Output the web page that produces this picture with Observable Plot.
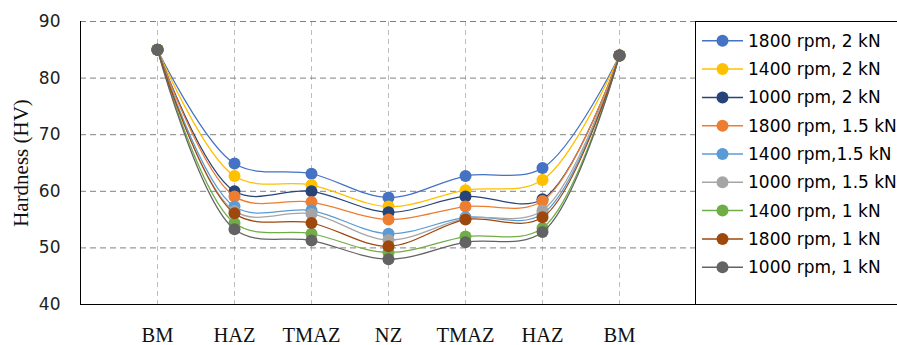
<!DOCTYPE html>
<html><head><meta charset="utf-8">
<script src="https://cdn.jsdelivr.net/npm/d3@7"></script>
<script src="https://cdn.jsdelivr.net/npm/@observablehq/plot@0.6"></script>
<style>
html,body{margin:0;padding:0;background:#fff;}
#wrap{position:relative;width:897px;height:345px;overflow:hidden;}
#chart{position:absolute;left:0;top:0;}
#legend{position:absolute;left:695px;top:21px;}
</style></head><body><div id="wrap"><div id="chart"></div><div id="legend"></div></div>
<script>
const zones = ["BM", "HAZ", "TMAZ", "NZ", "TMAZ", "HAZ", "BM"];
const seriesNames = [
  "1800 rpm, 2 kN", "1400 rpm, 2 kN", "1000 rpm, 2 kN",
  "1800 rpm, 1.5 kN", "1400 rpm,1.5 kN", "1000 rpm, 1.5 kN",
  "1400 rpm, 1 kN", "1800 rpm, 1 kN", "1000 rpm, 1 kN"
];
const seriesColors = ["#4472C4", "#FFC000", "#264478", "#ED7D31", "#5B9BD5", "#A5A5A5", "#70AD47", "#9E480E", "#636363"];
const hv1800_2   = [85, 64.9, 63.1, 58.9, 62.7, 64.1, 84];
const hv1400_2   = [85, 62.7, 61.1, 57.3, 60.2, 62.0, 84];
const hv1000_2   = [85, 60.0, 60.0, 56.3, 59.1, 58.6, 84];
const hv1800_15  = [85, 59.1, 58.1, 55.0, 57.3, 58.3, 84];
const hv1400_15  = [85, 57.3, 56.6, 52.5, 55.4, 56.0, 84];
const hv1000_15  = [85, 56.5, 56.0, 51.4, 55.2, 56.6, 84];
const hv1400_1   = [85, 54.4, 52.5, 49.2, 52.0, 53.5, 84];
const hv1800_1   = [85, 56.1, 54.4, 50.3, 55.0, 55.4, 84];
const hv1000_1   = [85, 53.3, 51.3, 48.0, 51.0, 52.8, 84];
const seriesValues = [hv1800_2, hv1400_2, hv1000_2, hv1800_15, hv1400_15, hv1000_15, hv1400_1, hv1800_1, hv1000_1];
const yTicks = [40, 50, 60, 70, 80, 90];
const yGrid = [50, 60, 70, 80, 90];
const yLabel = "Hardness (HV)";

const positions = zones.map((z, i) => i);
const data = seriesNames.flatMap((name, i) => seriesValues[i].map((v, j) => ({series: name, pos: j, hv: v})));

const seriesMarks = seriesNames.flatMap((name) => {
  const sub = data.filter(d => d.series === name);
  return [
    Plot.line(sub, {x: "pos", y: "hv", stroke: "series", curve: "catmull-rom", strokeWidth: 1.25}),
    Plot.dot(sub, {x: "pos", y: "hv", fill: "series", r: 6, stroke: "none"})
  ];
});

const chart = Plot.plot({
  width: 697, height: 345,
  marginLeft: 80, marginRight: 1, marginTop: 21, marginBottom: 41,
  style: {background: "#fff", overflow: "visible"},
  x: {domain: [-1, 7], axis: null},
  y: {domain: [40, 90], axis: null},
  color: {domain: seriesNames, range: seriesColors},
  marks: [
    Plot.gridX(positions, {stroke: "#bdbdbd", strokeOpacity: 1, strokeDasharray: "5,4", strokeWidth: 1}),
    Plot.gridY(yGrid, {stroke: "#808080", strokeOpacity: 1, strokeDasharray: "6,4", strokeWidth: 1}),
    Plot.ruleX([-1, 7], {stroke: "#000", strokeWidth: 1}),
    Plot.ruleY([40], {stroke: "#000", strokeWidth: 1}),
    Plot.axisY({ticks: yTicks, tickSize: 0, tickPadding: 20, fontSize: 17, fontFamily: "DejaVu Sans", color: "#222", label: null}),
    Plot.axisX(positions, {tickSize: 0, tickPadding: 23, fontSize: 20.5, fontFamily: "Liberation Serif", color: "#111", tickFormat: i => zones[i], label: null}),
    Plot.text([yLabel], {frameAnchor: "left", rotate: -90, dx: -59, fontSize: 21, fontFamily: "Liberation Serif", fill: "#111", textAnchor: "middle"}),
    ...seriesMarks
  ]
});
document.getElementById("chart").appendChild(chart);

// legend
const lg = d3.select("#legend").append("svg").attr("width", 210).attr("height", 284)
  .style("font-family", "DejaVu Sans").style("font-size", "17px");
lg.append("rect").attr("x", 0.5).attr("y", 0.5).attr("width", 220).attr("height", 283)
  .attr("fill", "#fff").attr("stroke", "#000");
seriesNames.forEach((name, i) => {
  const y = 19.8 + i * 28.3;
  const g = lg.append("g").attr("transform", `translate(0,${y})`);
  g.append("line").attr("x1", 7).attr("x2", 48).attr("y1", 0).attr("y2", 0)
    .attr("stroke", seriesColors[i]).attr("stroke-width", 1.5);
  g.append("circle").attr("cx", 27.5).attr("cy", 0).attr("r", 6).attr("fill", seriesColors[i]);
  g.append("text").attr("x", 53).attr("y", 0).attr("dy", "0.35em").attr("fill", "#000").text(name);
});
</script></body></html>
